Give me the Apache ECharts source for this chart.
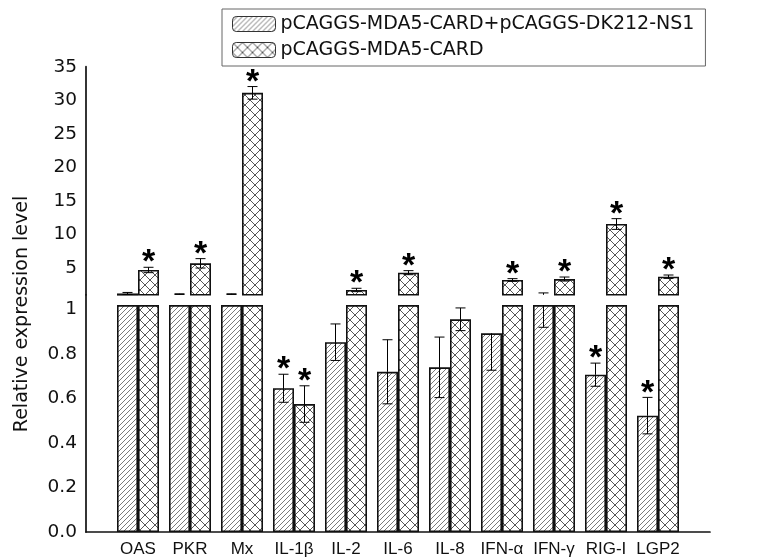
<!DOCTYPE html>
<html><head><meta charset="utf-8">
<script src="https://cdn.jsdelivr.net/npm/echarts@6/dist/echarts.min.js"></script>
<style>html,body{margin:0;padding:0;background:#fff}#c{width:757px;height:560px}</style>
</head><body><div id="c"></div>
<script>
// ---- data ----
const categories = ['OAS','PKR','Mx','IL-1β','IL-2','IL-6','IL-8','IFN-α','IFN-γ','RIG-I','LGP2'];
const seriesNames = ['pCAGGS-MDA5-CARD+pCAGGS-DK212-NS1', 'pCAGGS-MDA5-CARD'];
const ns1Values = [1.2, 1.1, 1.1, 0.646, 0.853, 0.72, 0.74, 0.893, 1.1, 0.707, 0.523];
const ns1Errors = [0.15, 0.05, 0.05, 0.063, 0.082, 0.144, 0.136, 0.166, 0.18, 0.052, 0.082];
const ns1Signif = [0, 0, 0, 1, 0, 0, 0, 0, 0, 1, 1];
const cardValues = [4.7, 5.69, 31.1, 0.575, 1.72, 4.3, 0.956, 3.21, 3.35, 11.55, 3.7];
const cardErrors = [0.4, 0.7, 0.94, 0.082, 0.25, 0.3, 0.051, 0.2, 0.3, 0.8, 0.25];
const cardSignif = [1, 1, 1, 1, 1, 1, 0, 1, 1, 1, 1];
const upperTicks = [5, 10, 15, 20, 25, 30, 35];
const lowerTicks = [0, 0.2, 0.4, 0.6, 0.8, 1];

// ---- axis-break settings ----
const UPPER_MIN = 1, UPPER_MAX = 35;
const LOWER_MAX = 1.066, LOWER_CUT = 1.02;
const FONT = 'Arial, "Liberation Sans", sans-serif';
const WFONT = '"DejaVu Sans", sans-serif';
const BAR_W = 21;

function makeHatch() {
  const s = 5, c = document.createElement('canvas');
  c.width = s; c.height = s;
  const g = c.getContext('2d');
  g.fillStyle = '#fff'; g.fillRect(0, 0, s, s);
  g.strokeStyle = '#7a7a7a'; g.lineWidth = 1;
  g.beginPath();
  g.moveTo(-1, s + 1); g.lineTo(s + 1, -1);
  g.moveTo(-1, 1); g.lineTo(1, -1);
  g.moveTo(s - 1, s + 1); g.lineTo(s + 1, s - 1);
  g.stroke();
  return c;
}
function makeCross() {
  const s = 10, c = document.createElement('canvas');
  c.width = s; c.height = s;
  const g = c.getContext('2d');
  g.fillStyle = '#fff'; g.fillRect(0, 0, s, s);
  g.strokeStyle = '#444'; g.lineWidth = 0.9;
  g.beginPath();
  g.moveTo(0, 0); g.lineTo(s, s);
  g.moveTo(s, 0); g.lineTo(0, s);
  g.stroke();
  return c;
}
const patterns = [
  { image: makeHatch(), repeat: 'repeat' },
  { image: makeCross(), repeat: 'repeat' }
];

const xData = [''].concat(categories, ['']);
const pad = arr => [null].concat(arr, [null]);
const upperVals = arr => pad(arr.map(v => (v > UPPER_MIN ? v : null)));
const lowerVals = arr => pad(arr.map(v => Math.min(v, LOWER_CUT)));
const errData = (vals, errs, sig) => vals.map((v, i) => [i + 1, v, errs[i], sig[i]]);

function ln(x1, y1, x2, y2) {
  return { type: 'line', shape: { x1, y1, x2, y2 }, style: { stroke: '#000', lineWidth: 1 } };
}
function star(x, y) {
  const fs = 34;
  return { type: 'text', style: { text: '*', x: x, y: y + 0.2 * fs, font: 'bold ' + fs + 'px ' + FONT,
    textAlign: 'center', textVerticalAlign: 'middle', fill: '#000' } };
}
function makeErrRender(offset, part) {
  return function (params, api) {
    const xi = api.value(0), v = api.value(1), e = api.value(2), s = api.value(3);
    const cap = 5, kids = [];
    let topY = null;
    if (part === 'upper') {
      if (v <= UPPER_MIN) return null;
      const x = api.coord([xi, v])[0] + offset;
      const yt = api.coord([xi, v + e])[1];
      const yb = api.coord([xi, Math.max(v - e, UPPER_MIN)])[1];
      kids.push(ln(x, yt, x, yb), ln(x - cap, yt, x + cap, yt));
      if (v - e > UPPER_MIN) kids.push(ln(x - cap, yb, x + cap, yb));
      topY = yt;
      if (s) kids.push(star(x, topY - 11));
    } else {
      if (v - e >= LOWER_CUT) return null;
      const vc = Math.min(v, LOWER_CUT);
      const x = api.coord([xi, vc])[0] + offset;
      const yv = api.coord([xi, vc])[1];
      const yb = api.coord([xi, v - e])[1];
      kids.push(ln(x, yv, x, yb), ln(x - cap, yb, x + cap, yb));
      if (v + e <= LOWER_CUT) {
        const yt = api.coord([xi, v + e])[1];
        kids.push(ln(x, yt, x, yv), ln(x - cap, yt, x + cap, yt));
        topY = yt;
      }
      if (s && v < 1 && topY != null) kids.push(star(x, topY - 11));
    }
    return { type: 'group', children: kids };
  };
}

const barBase = (name, idx, data, gi) => ({
  name: name, type: 'bar', xAxisIndex: gi, yAxisIndex: gi, data: data,
  barWidth: BAR_W, barGap: '0%', clip: true,
  itemStyle: { color: patterns[idx], borderColor: '#111', borderWidth: 1.6 },
  emphasis: { disabled: true }, animation: false
});
const errBase = (id, vals, errs, sig, offset, part, gi) => ({
  name: id, type: 'custom', xAxisIndex: gi, yAxisIndex: gi, z: 5,
  data: errData(vals, errs, sig), encode: { x: 0, y: 1 },
  renderItem: makeErrRender(offset, part), animation: false, silent: true
});

const option = {
  animation: false,
  backgroundColor: '#fff',
  grid: [
    { left: 86, right: 47, top: 66.7, height: 228.1 },
    { left: 86, right: 47, top: 294.8, bottom: 28 }
  ],
  xAxis: [
    { gridIndex: 0, type: 'category', data: xData, boundaryGap: false, show: false },
    { gridIndex: 1, type: 'category', data: xData, boundaryGap: false,
      axisLine: { lineStyle: { color: '#111', width: 1.7 } }, axisTick: { show: false },
      axisLabel: { fontSize: 17, margin: 9, interval: 0, color: '#111', fontFamily: FONT },
      splitLine: { show: false } }
  ],
  yAxis: [
    { gridIndex: 0, type: 'value', min: UPPER_MIN, max: UPPER_MAX,
      axisLine: { show: true, lineStyle: { color: '#111', width: 1.7 } },
      axisTick: { show: false }, splitLine: { show: false },
      axisLabel: { fontSize: 18.5, margin: 9, customValues: upperTicks, color: '#111', fontFamily: WFONT } },
    { gridIndex: 1, type: 'value', min: 0, max: LOWER_MAX,
      axisLine: { show: true, lineStyle: { color: '#111', width: 1.7 } },
      axisTick: { show: false }, splitLine: { show: false },
      axisLabel: { fontSize: 18.5, margin: 9, customValues: lowerTicks, color: '#111', fontFamily: WFONT,
        formatter: v => (v === 0 ? '0.0' : v === 1 ? '1' : v.toFixed(1)) } }
  ],
  legend: {
    data: seriesNames, orient: 'vertical', left: 222, top: 9,
    itemWidth: 43, itemHeight: 15, itemGap: 6, padding: [5, 11, 6, 10],
    backgroundColor: '#fff', borderColor: '#666', borderWidth: 1,
    textStyle: { fontSize: 19, lineHeight: 20, color: '#111', fontFamily: WFONT },
    itemStyle: { borderColor: '#333', borderWidth: 1 },
    selectedMode: false
  },
  graphic: [{
    type: 'text', x: 22, y: 314, rotation: Math.PI / 2,
    style: { text: 'Relative expression level', font: '19px ' + WFONT, fill: '#111',
      textAlign: 'center', textVerticalAlign: 'middle' }
  }],
  series: [
    barBase(seriesNames[0], 0, upperVals(ns1Values), 0),
    barBase(seriesNames[1], 1, upperVals(cardValues), 0),
    barBase(seriesNames[0], 0, lowerVals(ns1Values), 1),
    barBase(seriesNames[1], 1, lowerVals(cardValues), 1),
    errBase('errNs1Up', ns1Values, ns1Errors, ns1Signif, -BAR_W / 2, 'upper', 0),
    errBase('errCardUp', cardValues, cardErrors, cardSignif, BAR_W / 2, 'upper', 0),
    errBase('errNs1Low', ns1Values, ns1Errors, ns1Signif, -BAR_W / 2, 'lower', 1),
    errBase('errCardLow', cardValues, cardErrors, cardSignif, BAR_W / 2, 'lower', 1)
  ]
};
const chart = echarts.init(document.getElementById('c'), null, { renderer: 'canvas' });
chart.setOption(option);
</script>
</body></html>
